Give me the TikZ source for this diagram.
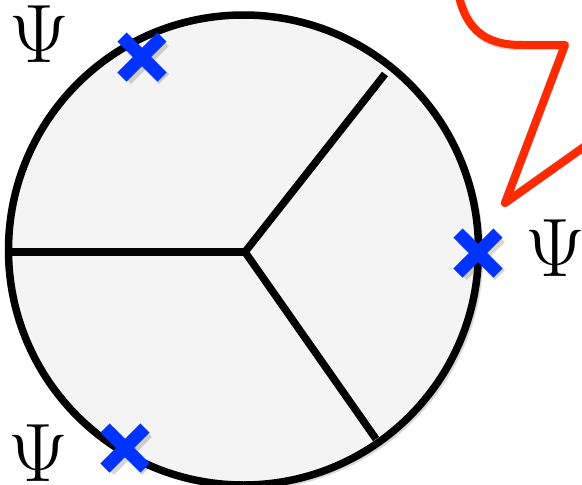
\RequirePackage{fix-cm}
\documentclass[tikz,border=0pt]{standalone}
\usetikzlibrary{calc}
\definecolor{bubblered}{HTML}{FF2A00}
\definecolor{crossblue}{HTML}{0033FF}
\definecolor{diskgray}{HTML}{F4F4F4}
\begin{document}
\begin{tikzpicture}[x=1pt,y=-1pt,
  edge/.style={line width=7.5pt, black},
  cross/.style={line width=13pt, crossblue},
  crossshadow/.style={line width=14pt, black, opacity=0.16},
  psi/.style={inner sep=0pt, font=\fontsize{83}{83}\selectfont}]
\useasboundingbox (0,0) rectangle (582,485);
% speech bubble
\begin{scope}
\clip (0,0) rectangle (582,485);
\coordinate (b0) at (456,-20);
\coordinate (b1) at (522,45);
\coordinate (b2) at (565,45);
\coordinate (b3) at (505,203);
\coordinate (b4) at (605,132);
\draw[black, opacity=0.15, line width=9pt, line join=round, shift={(3,3)}]
  (b0) .. controls (462,30) and (485,45) .. (b1) -- (b2) -- (b3) -- (b4);
\draw[bubblered, line width=8pt, line join=round]
  (b0) .. controls (462,30) and (485,45) .. (b1) -- (b2) -- (b3) -- (b4);
\end{scope}
% disk
\coordinate (c) at (243.5,250);
\fill[black, opacity=0.15] ($(c)+(3,3)$) circle (237);
\fill[diskgray] (c) circle (235);
\coordinate (v) at (245,252);
\coordinate (pl) at (8.5,252);
\coordinate (pu) at (385,74);
\coordinate (pd) at (376,439);
\draw[edge] (v) -- (pl);
\draw[edge] (v) -- (pu);
\draw[edge] (v) -- (pd);
\draw[edge] (c) circle (235);
% crosses
\coordinate (xa) at (142,57);
\coordinate (xb) at (125,448);
\coordinate (xr) at (478,253);
\foreach \n in {xa,xb,xr}{
  \draw[crossshadow] ($(\n)+(-16,-16)$) -- ($(\n)+(22,22)$);
  \draw[crossshadow] ($(\n)+(-16,22)$) -- ($(\n)+(22,-16)$);
  \draw[cross] ($(\n)+(-20,-20)$) -- ($(\n)+(20,20)$);
  \draw[cross] ($(\n)+(-20,20)$) -- ($(\n)+(20,-20)$);
}
% labels
\node[psi] (psia) at (39,34) {$\Psi$};
\node[psi] (psib) at (38,453) {$\Psi$};
\node[psi] (psir) at (555,248) {$\Psi$};
\end{tikzpicture}
\end{document}
